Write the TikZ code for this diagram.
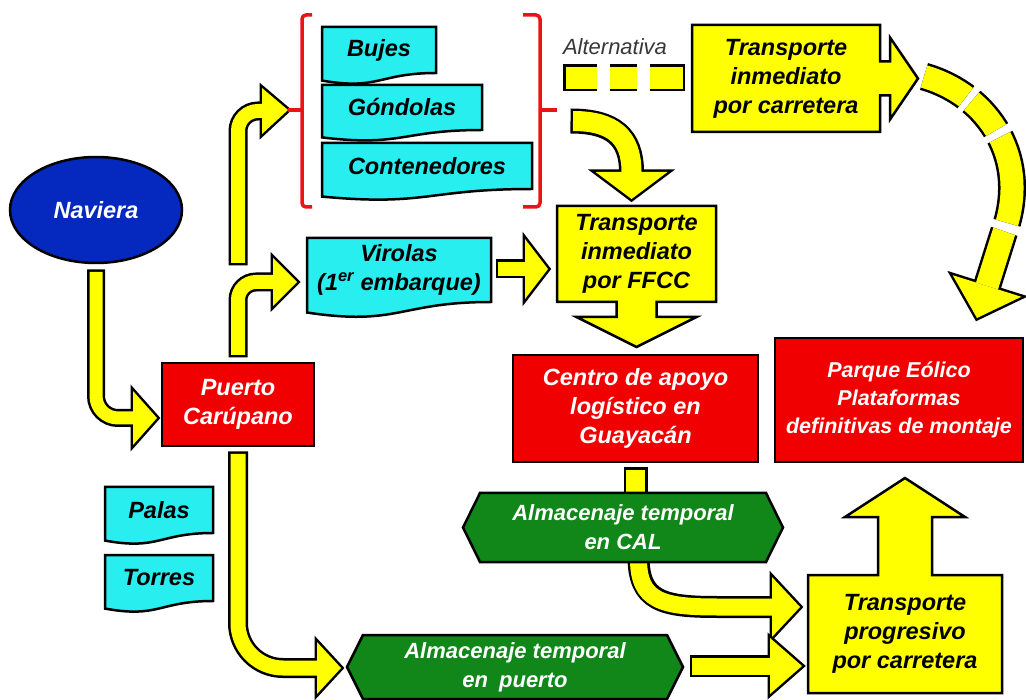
\documentclass[tikz,border=0pt]{standalone}
\usepackage{fontspec}
\setmainfont{Liberation Sans}
\usetikzlibrary{calc,backgrounds,shapes.geometric}
\definecolor{cYel}{RGB}{255,255,0}
\definecolor{cRed}{RGB}{240,0,0}
\definecolor{cCyan}{RGB}{40,238,240}
\definecolor{cGreen}{RGB}{16,135,24}
\definecolor{cBlue}{RGB}{5,40,190}
\definecolor{cAlt}{RGB}{55,55,55}
\definecolor{cBrk}{RGB}{235,20,20}

\newcommand\yarw[3]{%
  \draw[black,line width=5pt,line join=miter] #3;
  \draw[black,line width=#1+5,shorten <=-2.5pt] #2;
  \draw[cYel,line width=#1] #2;
  \fill[cYel] #3;}
\newcommand\docshape[1]{%
  \path[docline] let \p1=(#1.north west), \p2=(#1.south east) in
  (\x1,\y1) -- (\x2,\y1) -- (\x2,\y2)
  .. controls ({0.5*((\x1)+(\x2))},\y2) and ({0.5*((\x1)+(\x2))},{(\y2)-0.38*((\y1)-(\y2))})
  .. (\x1,{(\y2)-0.1646*((\y1)-(\y2))}) -- cycle;}
\newcommand\hexshape[2]{%
  \path[hexline] (#1.west) -- ($(#1.north west)+(#2,0)$) -- ($(#1.north east)+(-#2,0)$)
  -- (#1.east) -- ($(#1.south east)+(-#2,0)$) -- ($(#1.south west)+(#2,0)$) -- cycle;}

\begin{document}
\begin{tikzpicture}[x=1pt,y=-1pt,
  lbl/.style={font=\fontsize{23.5}{29}\selectfont\bfseries\itshape, align=center,
              inner sep=0pt, outer sep=0pt, rectangle},
  redbox/.style={lbl, draw=black, line width=2.5pt, fill=cRed, text=white},
  ybox/.style={lbl, text=black},
  docbox/.style={lbl, text=black},
  hexbox/.style={lbl, text=white, font=\fontsize{22}{29}\selectfont\bfseries\itshape},
  navst/.style={lbl, ellipse, draw=black, line width=2.5pt, fill=cBlue, text=white},
  altst/.style={font=\fontsize{22}{26}\selectfont\itshape, text=cAlt, inner sep=0pt},
  docline/.style={draw=black, line width=2.5pt, fill=cCyan},
  hexline/.style={draw=black, line width=2.5pt, fill=cGreen},
  callline/.style={draw=black, line width=2.5pt, fill=cYel, line join=miter},
  brk/.style={draw=cBrk, line width=3.5pt, rounded corners=4pt},
]
\useasboundingbox (0,0) rectangle (1026,700);

% ---------- nodes ----------
\node[navst, minimum width=172pt, minimum height=106pt] (nav) at (96,210) {Naviera};
\node[redbox, minimum width=152pt, minimum height=83pt] (puerto) at (238,404.5) {Puerto\\Carúpano};
\node[docbox, minimum width=108pt, minimum height=46pt] (palas) at (159,510) {Palas};
\node[docbox, minimum width=108pt, minimum height=46pt] (torres) at (159,578) {Torres};
\node[docbox, minimum width=114pt, minimum height=46pt] (bujes) at (379,50) {Bujes};
\node[docbox, minimum width=160pt, minimum height=45pt] (gond) at (402,107.5) {Góndolas};
\node[docbox, minimum width=210pt, minimum height=46pt] (cont) at (427,166) {Contenedores};
\node[docbox, minimum width=184pt, minimum height=64pt] (vir) at (399,270) {Virolas\\(1\textsuperscript{er} embarque)};
\node[ybox, minimum width=159pt, minimum height=96pt] (ffcc) at (636.5,254) {Transporte\\inmediato\\por FFCC};
\node[ybox, minimum width=188pt, minimum height=107pt] (car) at (786,78.5) {Transporte\\inmediato\\por carretera};
\node[redbox, minimum width=245pt, minimum height=107pt] (centro) at (635.5,408.5) {Centro de apoyo\\logístico en\\Guayacán};
\node[redbox, minimum width=248pt, minimum height=124pt, font=\fontsize{21.5}{28}\selectfont\bfseries\itshape] (parque) at (899,400) {Parque Eólico\\Plataformas\\definitivas de montaje};
\node[hexbox, minimum width=320pt, minimum height=69pt] (cal) at (623,527.5) {Almacenaje temporal\\en CAL};
\node[hexbox, minimum width=336pt, minimum height=64pt] (alm) at (515,667) {Almacenaje temporal\\en\enspace puerto};
\node[ybox, minimum width=194pt, minimum height=118pt] (prog) at (905,634) {Transporte\\progresivo\\por carretera};
\node[altst] (altlbl) at (615,47) {Alternativa};

\coordinate (brkL) at (288,110);
\coordinate (brkR) at (557,110);
\coordinate (b1) at ($(puerto.west)+(-29,13.5)$);
\coordinate (b2) at ($(brkL)+(-26,1)$);
\coordinate (b3) at ($(vir.west)+(-34,12)$);
\coordinate (b4) at ($(alm.west)+(-30,1)$);
\coordinate (b5) at ($(ffcc.west)+(-32,15)$);
\coordinate (b6) at ($(ffcc.north)+(-5,-34)$);
\coordinate (b9) at ($(prog.west)+(-36,-27)$);
\coordinate (b10) at ($(prog.west)+(-38,32)$);
\coordinate (s11) at ($(car.east)+(44,-2)$);
\coordinate (b11) at ($(parque.north)+(88,-52)$);
\coordinate (a0) at ($(car.west)+(-129,-0.5)$);
\coordinate (a1) at ($(car.west)+(-7,-0.5)$);

% ---------- brackets ----------
\draw[brk] (312,15) -- (302,15) -- (302,207) -- (312,207);
\draw[brk] (302,110) -- (brkL);
\draw[brk] (523,15) -- (540,15) -- (540,207) -- (523,207);
\draw[brk] (540,110) -- (brkR);

\begin{scope}[on background layer]
% ---------- block arrows ----------
\yarw{13}{[rounded corners=22pt] ($(nav.south)+(0,9)$) |- (b1)}{($(b1)+(0,-27)$) -- ($(b1)+(24,0)$) -- ($(b1)+(0,27)$) -- cycle}
\yarw{14}{[rounded corners=20pt] ($(puerto.north)+(0,-100)$) |- (b2)}{($(b2)+(0,-23)$) -- (brkL) -- ($(b2)+(0,23)$) -- cycle}
\yarw{14}{[rounded corners=18pt] ($(puerto.north)+(0,-8)$) |- (b3)}{($(b3)+(0,-24)$) -- ($(b3)+(24,0)$) -- ($(b3)+(0,24)$) -- cycle}
\yarw{15}{[rounded corners=45pt] ($(puerto.south)+(0,8)$) |- (b4)}{($(b4)+(0,-26)$) -- ($(b4)+(24,0)$) -- ($(b4)+(0,26)$) -- cycle}
\yarw{14}{($(vir.east)+(7,-1)$) -- (b5)}{($(b5)+(0,-30)$) -- ($(b5)+(23,0)$) -- ($(b5)+(0,30)$) -- cycle}
\yarw{20}{($(brkR)+(16,11)$) .. controls +(40,0) and +(0,-35) .. (b6)}{($(b6)+(-36,0)$) -- ($(b6)+(0,27)$) -- ($(b6)+(36,0)$) -- cycle}
\yarw{17}{($(cal.south)+(15.5,-3)$) .. controls +(0,42) and +(-55,0) .. ($(b9)+(-55,0)$) -- (b9)}{($(b9)+(0,-30)$) -- ($(b9)+(28,0)$) -- ($(b9)+(0,30)$) -- cycle}
\yarw{17}{($(alm.east)+(9,-1)$) -- (b10)}{($(b10)+(0,-28)$) -- ($(b10)+(32,0)$) -- ($(b10)+(0,28)$) -- cycle}
% centro -> CAL bar
\draw[black,line width=24pt,shorten <=-2.5pt] ($(centro.south)+(0,8)$) -- ($(centro.south |- cal.north)+(0,4)$);
\draw[cYel,line width=19pt] ($(centro.south)+(0,8)$) -- ($(centro.south |- cal.north)+(0,4)$);
% alternative dashed bar
\draw[black,line width=27pt,dash pattern=on 34pt off 13pt on 27pt off 13pt on 40pt] (a0) -- (a1);
\draw[cYel,line width=22pt,dash pattern=on 31.5pt off 13pt on 27pt off 13pt on 40pt] ($(a0)+(2.5,0)$) -- ($(a1)+(-2.5,0)$);
% dashed curved arrow to parque
\draw[black,line width=5pt] ($(b11)+(-34.3,-10.8)$) -- ($(b11)+(-10,32)$) -- ($(b11)+(34.3,10.8)$) -- cycle;
\draw[black,line width=28pt,dash pattern=on 47pt off 7pt on 38pt off 8pt on 88pt off 9pt on 400pt]
  (s11) .. controls +(66,19) and +(26,-72) .. ($(b11)+(17,-54)$) -- (b11);
\draw[cYel,line width=23pt,dash pattern=on 47pt off 7pt on 38pt off 8pt on 88pt off 9pt on 400pt]
  (s11) .. controls +(66,19) and +(26,-72) .. ($(b11)+(17,-54)$) -- (b11);
\fill[cYel] ($(b11)+(-34.3,-10.8)$) -- ($(b11)+(-10,32)$) -- ($(b11)+(34.3,10.8)$) -- cycle;

% ---------- shapes ----------
\docshape{palas}
\docshape{torres}
\docshape{bujes}
\docshape{gond}
\docshape{cont}
\docshape{vir}
\hexshape{cal}{17}
\hexshape{alm}{16}
\path[callline] (car.north west) -- (car.north east) -- ($(car.east)+(0,-17)$) -- ($(car.east)+(10,-17)$)
  -- ($(car.east)+(10,-41)$) -- ($(car.east)+(38,0)$) -- ($(car.east)+(10,41)$) -- ($(car.east)+(10,17)$)
  -- ($(car.east)+(0,17)$) -- (car.south east) -- (car.south west) -- cycle;
\path[callline] (ffcc.north west) -- (ffcc.north east) -- (ffcc.south east) -- ($(ffcc.south)+(20,0)$)
  -- ($(ffcc.south)+(20,15)$) -- ($(ffcc.south)+(60,15)$) -- ($(ffcc.south)+(0,45)$)
  -- ($(ffcc.south)+(-60,15)$) -- ($(ffcc.south)+(-20,15)$) -- ($(ffcc.south)+(-20,0)$)
  -- (ffcc.south west) -- cycle;
\path[callline] (prog.south west) -- (prog.north west) -- ($(prog.north)+(-27,0)$) -- ($(prog.north)+(-27,-58)$)
  -- ($(prog.north)+(-60,-58)$) -- ($(prog.north)+(0,-97)$) -- ($(prog.north)+(60,-58)$)
  -- ($(prog.north)+(27,-58)$) -- ($(prog.north)+(27,0)$) -- (prog.north east) -- (prog.south east) -- cycle;
\end{scope}
\end{tikzpicture}
\end{document}
